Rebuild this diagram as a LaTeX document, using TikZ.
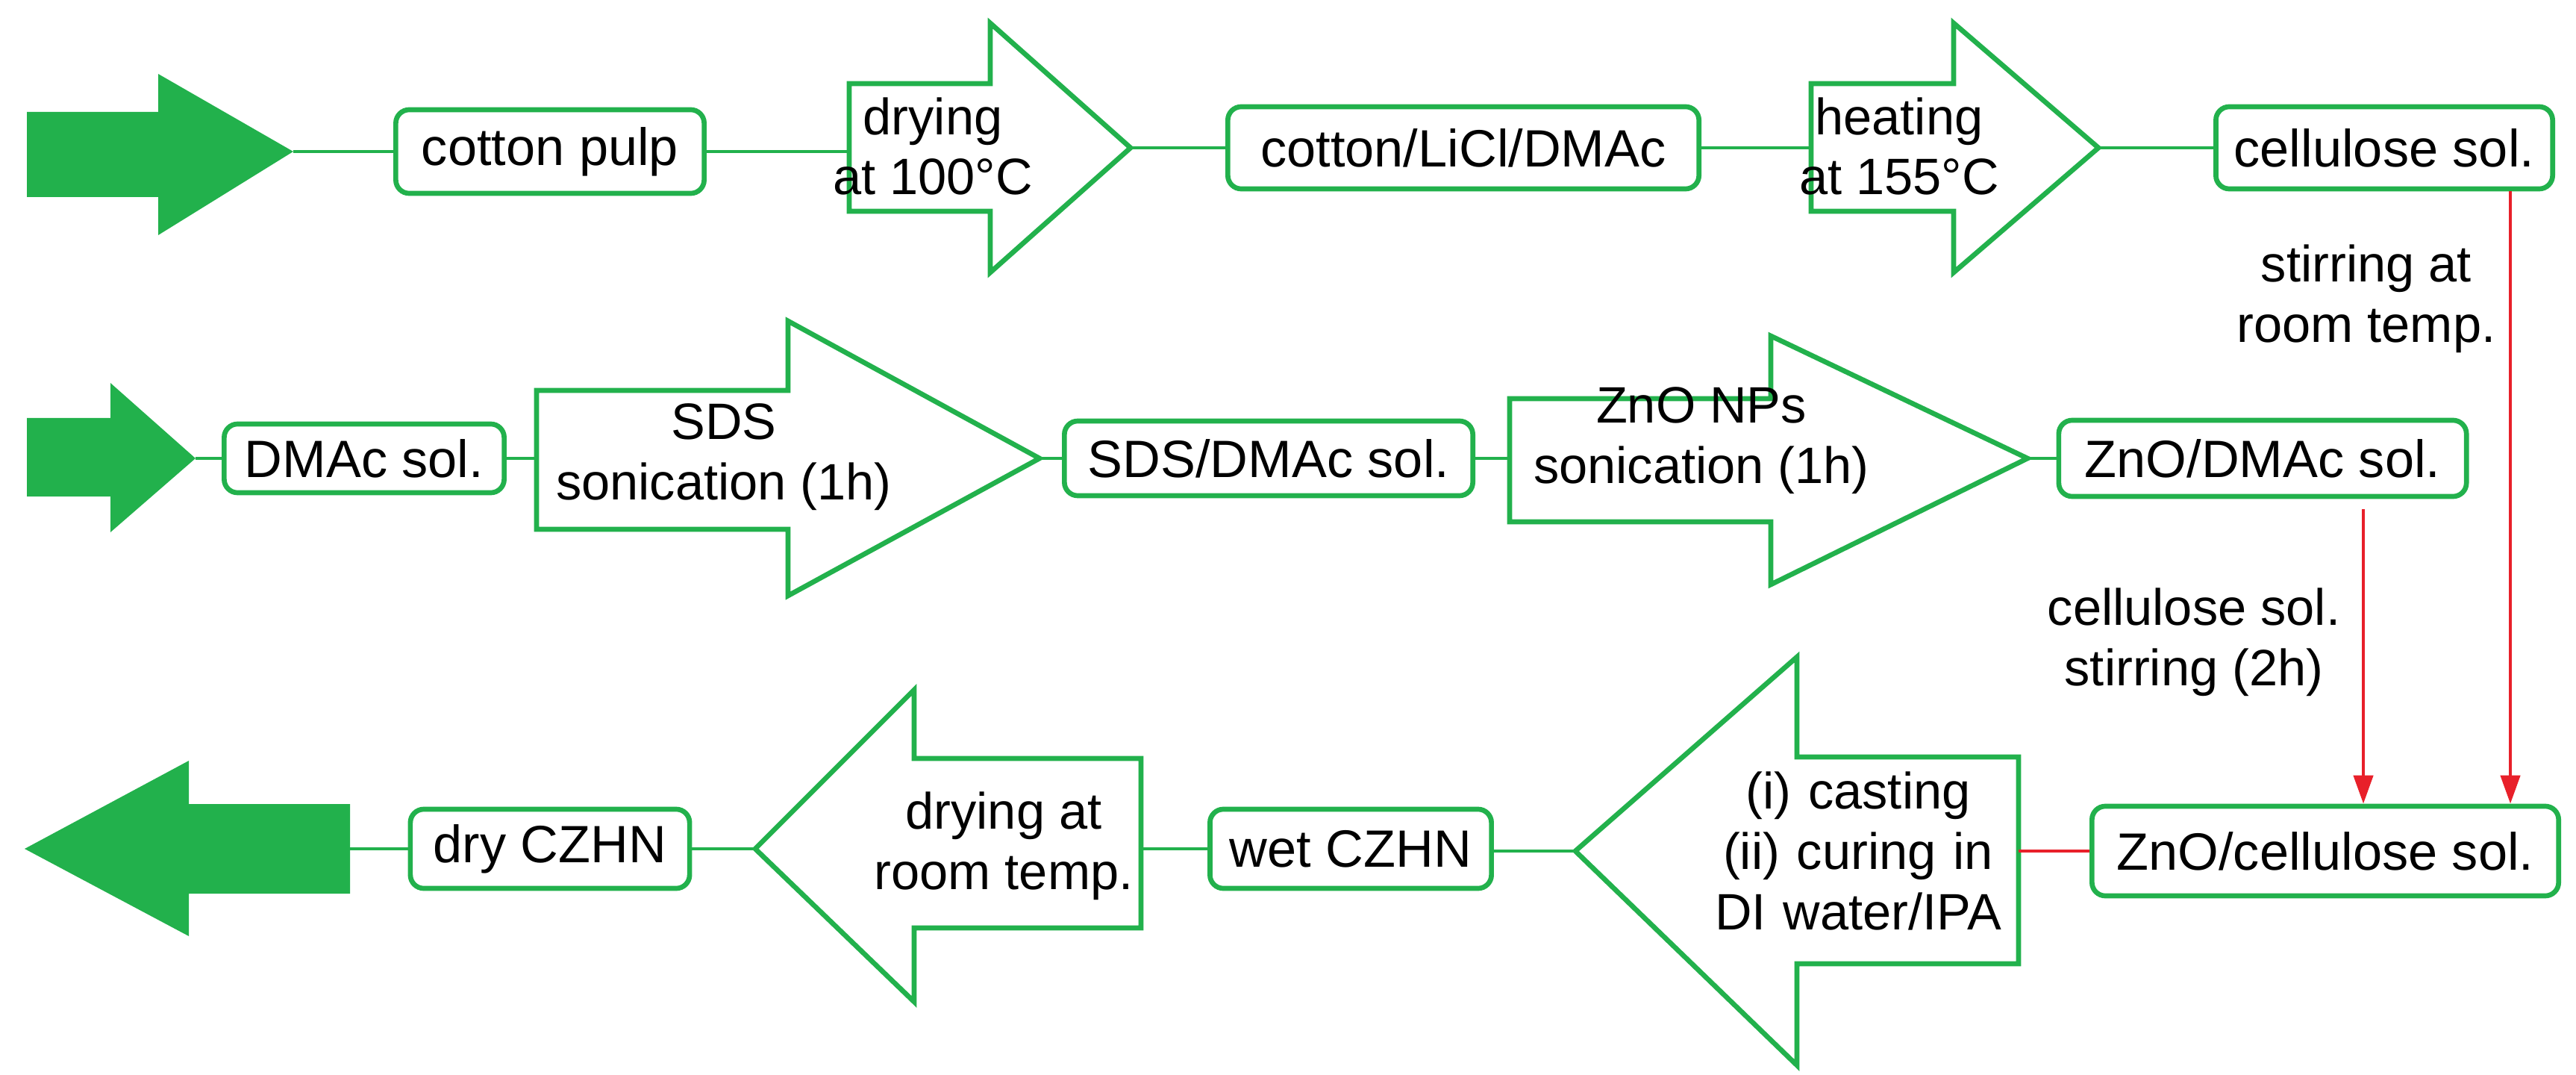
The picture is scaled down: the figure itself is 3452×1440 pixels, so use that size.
\documentclass[tikz,border=0pt]{standalone}
\usepackage{fontspec}
\setmainfont{Liberation Sans}
\usetikzlibrary{arrows.meta}
\definecolor{gr}{HTML}{22B14C}
\definecolor{rd}{HTML}{E8202A}
\begin{document}
\begin{tikzpicture}[x=0.01cm,y=-0.01cm,
  box/.style={draw=gr,line width=1.9pt,rounded corners=0.18cm,inner sep=0pt,font=\fontsize{20}{24}\selectfont},
  harrow/.style={draw=gr,line width=1.9pt,fill=white,line join=miter},
  sarrow/.style={fill=gr},
  txt/.style={font=\fontsize{19.5}{23}\selectfont,align=center,inner sep=0pt},
  con/.style={draw=gr,line width=1.3pt},
  rcon/.style={draw=rd,line width=1.3pt},
  rarr/.style={rcon,-{Triangle[length=0.38cm,width=0.26cm]}}]
\useasboundingbox (0,0) rectangle (3452,1440);
% ---------- row 1 ----------
\fill[sarrow] (36,150) -- (212,150) -- (212,99) -- (393,203) -- (212,315) -- (212,264) -- (36,264) -- cycle;
\coordinate (a1) at (393,203);
\node[box,minimum width=4.13cm,minimum height=1.12cm] (cp) at (737,203) {cotton pulp};
\draw[harrow] (1138,112) -- (1327,112) -- (1327,31) -- (1515,198) -- (1327,365) -- (1327,283) -- (1138,283) -- cycle;
\coordinate (d1l) at (1138,198); \coordinate (d1r) at (1515,198);
\node[txt] (d1) at (1250,196) {drying\\at 100\textdegree C};
\node[box,minimum width=6.31cm,minimum height=1.10cm] (cl) at (1961,198) {cotton/LiCl/DMAc};
\draw[harrow] (2427,112) -- (2618,112) -- (2618,31) -- (2812,198) -- (2618,365) -- (2618,283) -- (2427,283) -- cycle;
\coordinate (h1l) at (2427,198); \coordinate (h1r) at (2812,198);
\node[txt] (h1) at (2545,196) {heating\\at 155\textdegree C};
\node[box,minimum width=4.51cm,minimum height=1.10cm] (cs) at (3195,198) {cellulose sol.};
\draw[con] (a1) -- (cp.west);
\draw[con] (cp.east) -- (cp.east -| d1l);
\draw[con] (d1r) -- (cl.west);
\draw[con] (cl.east) -- (h1l);
\draw[con] (h1r) -- (cs.west);
% ---------- row 2 ----------
\fill[sarrow] (36,560) -- (148,560) -- (148,513) -- (262,614) -- (148,713) -- (148,665) -- (36,665) -- cycle;
\coordinate (a2) at (262,614);
\node[box,minimum width=3.75cm,minimum height=0.92cm] (dm) at (488,614) {DMAc sol.};
\draw[harrow] (719,523) -- (1056,523) -- (1056,430) -- (1393,614) -- (1056,798) -- (1056,709) -- (719,709) -- cycle;
\coordinate (s1l) at (719,614); \coordinate (s1r) at (1393,614);
\node[txt] (s1) at (970,612) {SDS\\sonication (1h)};
\node[box,minimum width=5.47cm,minimum height=1.0cm] (sd) at (1700,614) {SDS/DMAc sol.};
\draw[harrow] (2023,534) -- (2373,534) -- (2373,450) -- (2717,614) -- (2373,783) -- (2373,699) -- (2023,699) -- cycle;
\coordinate (z1l) at (2023,614); \coordinate (z1r) at (2717,614);
\node[txt] (z1) at (2280,590) {ZnO NPs\\sonication (1h)};
\node[box,minimum width=5.46cm,minimum height=1.02cm] (zd) at (3032,614) {ZnO/DMAc sol.};
\draw[con] (a2) -- (dm.west);
\draw[con] (dm.east) -- (s1l);
\draw[con] (s1r) -- (sd.west);
\draw[con] (sd.east) -- (z1l);
\draw[con] (z1r) -- (zd.west);
% ---------- row 3 ----------
\node[box,minimum width=6.25cm,minimum height=1.20cm] (zc) at (3116,1140) {ZnO/cellulose sol.};
\draw[harrow] (2705,1014) -- (2408,1014) -- (2408,880) -- (2111,1140) -- (2408,1427) -- (2408,1291) -- (2705,1291) -- cycle;
\coordinate (c1r) at (2705,1140); \coordinate (c1l) at (2111,1140);
\node[txt,text width=4.1cm] (c1) at (2490,1140) {(i) casting\\(ii) curing in\\DI water/IPA};
\node[box,minimum width=3.77cm,minimum height=1.06cm] (wc) at (1810,1137) {wet CZHN};
\draw[harrow] (1529,1016) -- (1225,1016) -- (1225,924) -- (1012,1137) -- (1225,1342) -- (1225,1243) -- (1529,1243) -- cycle;
\coordinate (r1r) at (1529,1137); \coordinate (r1l) at (1012,1137);
\node[txt] (r1) at (1345,1133) {drying at\\room temp.};
\node[box,minimum width=3.74cm,minimum height=1.06cm] (dc) at (737,1137) {dry CZHN};
\fill[sarrow] (469,1077) -- (253,1077) -- (253,1019) -- (33,1137) -- (253,1254) -- (253,1197) -- (469,1197) -- cycle;
\coordinate (a3) at (469,1137);
\draw[rcon] (zc.west) -- (c1r);
\draw[con] (c1l) -- (c1l -| wc.east);
\draw[con] (wc.west) -- (r1r);
\draw[con] (r1l) -- (dc.east);
\draw[con] (dc.west) -- (a3);
% ---------- red arrows ----------
\coordinate (zdb) at (3167,682);
\coordinate (csb) at (3364,256);
\draw[rarr] (zdb) -- (zdb |- zc.north);
\draw[rarr] (csb) -- (csb |- zc.north);
\node[txt,anchor=east] (l1) at (3345,400) {stirring at\\room temp.};
\node[txt] (l2) at (2940,860) {cellulose sol.\\stirring (2h)};
\end{tikzpicture}
\end{document}
